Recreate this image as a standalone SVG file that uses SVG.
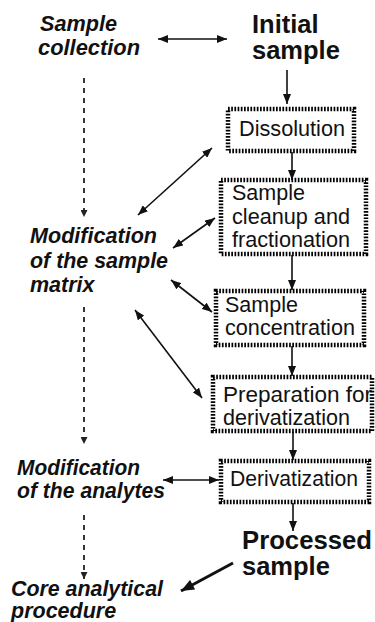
<svg xmlns="http://www.w3.org/2000/svg" width="375" height="622" viewBox="0 0 375 622">
  <style>
    .lbl { font-family: "Liberation Sans", Arial, sans-serif; font-size: 21.5px; font-weight: bold; font-style: italic; fill: #111; }
    .big { font-family: "Liberation Sans", Arial, sans-serif; font-size: 25.5px; font-weight: bold; fill: #111; }
    .box-text { font-family: "Liberation Sans", Arial, sans-serif; font-size: 21.5px; fill: #111; }
    .box { fill: none; stroke: #000; stroke-width: 4.5; stroke-dasharray: 1.7 1.5; }
    .arrow { fill: none; stroke: #111; stroke-width: 1.6; }
    .thick { fill: none; stroke: #111; stroke-width: 3; }
    .dashed { fill: none; stroke: #222; stroke-width: 1.8; stroke-dasharray: 5 5; }
  </style>
  <defs>
    <marker id="head" viewBox="0 0 10 8" refX="10" refY="4" markerWidth="10" markerHeight="8" markerUnits="userSpaceOnUse" orient="auto-start-reverse">
      <path d="M0,0 L10,4 L0,8 Z" fill="#111"/>
    </marker>
    <marker id="head-big" viewBox="0 0 12 10" refX="12" refY="5" markerWidth="14" markerHeight="11" markerUnits="userSpaceOnUse" orient="auto">
      <path d="M0,0 L12,5 L0,10 Z" fill="#111"/>
    </marker>
    <marker id="head-small" viewBox="0 0 8 8" refX="8" refY="4" markerWidth="8" markerHeight="7" markerUnits="userSpaceOnUse" orient="auto">
      <path d="M0,0 L8,4 L0,8 Z" fill="#222"/>
    </marker>
  </defs>

  <!-- connectors -->
  <g id="connectors">
    <!-- main process flow -->
    <line class="arrow" x1="287" y1="70" x2="287" y2="104" marker-end="url(#head)"/>
    <line class="arrow" x1="292" y1="152" x2="292" y2="180" marker-end="url(#head)"/>
    <line class="arrow" x1="292" y1="255" x2="292" y2="290" marker-end="url(#head)"/>
    <line class="arrow" x1="292" y1="346" x2="292" y2="376" marker-end="url(#head)"/>
    <line class="arrow" x1="293" y1="432" x2="293" y2="460" marker-end="url(#head)"/>
    <line class="arrow" x1="293" y1="503" x2="293" y2="531" marker-end="url(#head)"/>

    <!-- two-way links -->
    <line class="arrow" x1="158" y1="39" x2="227" y2="39" marker-start="url(#head)" marker-end="url(#head)"/>
    <line class="arrow" x1="138" y1="215" x2="212" y2="148" marker-start="url(#head)" marker-end="url(#head)"/>
    <line class="arrow" x1="173" y1="248" x2="215" y2="218" marker-start="url(#head)" marker-end="url(#head)"/>
    <line class="arrow" x1="171" y1="280" x2="212" y2="312" marker-start="url(#head)" marker-end="url(#head)"/>
    <line class="arrow" x1="135" y1="310" x2="202" y2="398" marker-start="url(#head)" marker-end="url(#head)"/>
    <line class="arrow" x1="163" y1="480" x2="219" y2="480" marker-start="url(#head)" marker-end="url(#head)"/>

    <!-- left-hand stage sequence -->
    <line class="dashed" x1="84" y1="78" x2="84" y2="217" marker-end="url(#head-small)"/>
    <line class="dashed" x1="84" y1="307" x2="84" y2="444" marker-end="url(#head-small)"/>
    <line class="dashed" x1="84" y1="515" x2="84" y2="579" marker-end="url(#head-small)"/>

    <!-- output to core procedure -->
    <line class="thick" x1="233" y1="563" x2="181" y2="591" marker-end="url(#head-big)"/>
  </g>

  <!-- stage labels -->
  <g id="sample-collection">
    <text class="lbl" x="40" y="31" textLength="77" lengthAdjust="spacingAndGlyphs">Sample</text>
    <text class="lbl" x="38" y="55" textLength="102" lengthAdjust="spacingAndGlyphs">collection</text>
  </g>
  <g id="initial-sample">
    <text class="big" x="252" y="33">Initial</text>
    <text class="big" x="252" y="59">sample</text>
  </g>
  <g id="matrix-modification">
    <text class="lbl" x="30" y="243" textLength="127" lengthAdjust="spacingAndGlyphs">Modification</text>
    <text class="lbl" x="30" y="268" textLength="138" lengthAdjust="spacingAndGlyphs">of the sample</text>
    <text class="lbl" x="30" y="292">matrix</text>
  </g>
  <g id="analyte-modification">
    <text class="lbl" x="17" y="475" textLength="123" lengthAdjust="spacingAndGlyphs">Modification</text>
    <text class="lbl" x="17" y="498" textLength="148" lengthAdjust="spacingAndGlyphs">of the analytes</text>
  </g>
  <g id="core-procedure">
    <text class="lbl" x="11" y="596" textLength="152" lengthAdjust="spacingAndGlyphs">Core analytical</text>
    <text class="lbl" x="11" y="618">procedure</text>
  </g>
  <g id="processed-sample">
    <text class="big" x="242" y="549" textLength="130" lengthAdjust="spacingAndGlyphs">Processed</text>
    <text class="big" x="242" y="575">sample</text>
  </g>

  <!-- process steps -->
  <g id="dissolution">
    <rect class="box" x="228" y="109" width="126" height="42"/>
    <text class="box-text" x="239" y="136" textLength="106" lengthAdjust="spacingAndGlyphs">Dissolution</text>
  </g>
  <g id="cleanup">
    <rect class="box" x="221" y="180" width="145" height="74"/>
    <text class="box-text" x="232" y="200">Sample</text>
    <text class="box-text" x="232" y="224" textLength="118" lengthAdjust="spacingAndGlyphs">cleanup and</text>
    <text class="box-text" x="232" y="247" textLength="118" lengthAdjust="spacingAndGlyphs">fractionation</text>
  </g>
  <g id="concentration">
    <rect class="box" x="216" y="291" width="148" height="54"/>
    <text class="box-text" x="225" y="312">Sample</text>
    <text class="box-text" x="225" y="335" textLength="130" lengthAdjust="spacingAndGlyphs">concentration</text>
  </g>
  <g id="preparation">
    <rect class="box" x="213" y="377" width="159" height="54"/>
    <text class="box-text" x="223" y="402" textLength="149" lengthAdjust="spacingAndGlyphs">Preparation for</text>
    <text class="box-text" x="223" y="425" textLength="127" lengthAdjust="spacingAndGlyphs">derivatization</text>
  </g>
  <g id="derivatization">
    <rect class="box" x="221" y="461" width="148" height="41"/>
    <text class="box-text" x="230" y="486" textLength="128" lengthAdjust="spacingAndGlyphs">Derivatization</text>
  </g>
</svg>
